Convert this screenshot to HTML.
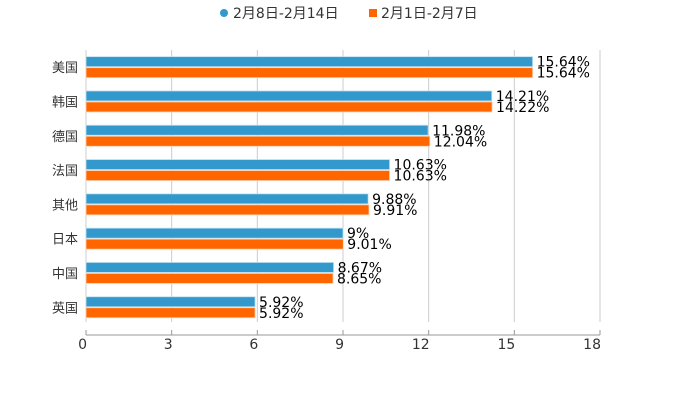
<!DOCTYPE html>
<html><head><meta charset="utf-8"><style>
body{margin:0;background:#fff}
svg text{font-family:"DejaVu Sans","Noto Sans CJK SC",sans-serif}
</style></head><body>
<svg id="c" width="700" height="400">
<g>
<g><circle cx="224" cy="13" r="4" fill="#3399cc"/><text x="233" y="18" font-size="14" fill="#333">2月8日-2月14日</text></g>
<g><rect x="369" y="9" width="8" height="8" fill="#ff6600"/><text x="381" y="18" font-size="14" fill="#333">2月1日-2月7日</text></g>
</g>
</svg>
<script>
const categories=["美国","韩国","德国","法国","其他","日本","中国","英国"];
const seriesA=[15.64,14.21,11.98,10.63,9.88,9,8.67,5.92];
const seriesB=[15.64,14.22,12.04,10.63,9.91,9.01,8.65,5.92];
const labelsA=["15.64%","14.21%","11.98%","10.63%","9.88%","9%","8.67%","5.92%"];
const labelsB=["15.64%","14.22%","12.04%","10.63%","9.91%","9.01%","8.65%","5.92%"];
const ticks=[0,3,6,9,12,15,18];
const svg=document.getElementById('c');const NS='http://www.w3.org/2000/svg';
const x0=86,x1=600,top0=50,rowH=34.3,axisY=335;
const xs=v=>x0+v/18*(x1-x0);
function mk(t,a,p){const e=document.createElementNS(NS,t);for(const k in a)e.setAttribute(k,a[k]);(p||svg).appendChild(e);return e;}
ticks.forEach(t=>{
 const g=mk('line',{x1:xs(t),x2:xs(t),y1:top0,y2:322,stroke:'#ccc','stroke-width':1});
 
 
 const tk=mk('line',{x1:xs(t),x2:xs(t),y1:axisY-5,y2:axisY,stroke:'#999'});
 
 
 const l=mk('text',{x:xs(t)+1,y:349,'font-size':14,fill:'#333','text-anchor':'end'});l.textContent=t;
 
 
});
const ax=mk('line',{x1:x0,x2:x1,y1:axisY,y2:axisY,stroke:'#999'});


const yl=mk('line',{x1:x0,x2:x0,y1:top0,y2:322,stroke:'#ccc'});


categories.forEach((c,i)=>{
 const cy=top0+rowH*(i+0.5);
 const t=mk('text',{x:78,y:cy+5,'font-size':13,fill:'#333','text-anchor':'end'});t.textContent=c;
 
 
 const a=mk('rect',{x:x0,y:cy-10.5,width:xs(seriesA[i])-x0,height:10,fill:'#3399cc',stroke:'#bfe0f0','stroke-width':0.8});
 
 
 const b=mk('rect',{x:x0,y:cy+0.5,width:xs(seriesB[i])-x0,height:10,fill:'#ff6600',stroke:'#ffd0b0','stroke-width':0.8});
 
 
 const la=mk('text',{x:xs(seriesA[i])+4,y:cy-0.5,'font-size':14,fill:'#000'});la.textContent=labelsA[i];
 
 
 const lb=mk('text',{x:xs(seriesB[i])+4,y:cy+10.5,'font-size':14,fill:'#000'});lb.textContent=labelsB[i];
 
 
});
</script>
</body></html>
